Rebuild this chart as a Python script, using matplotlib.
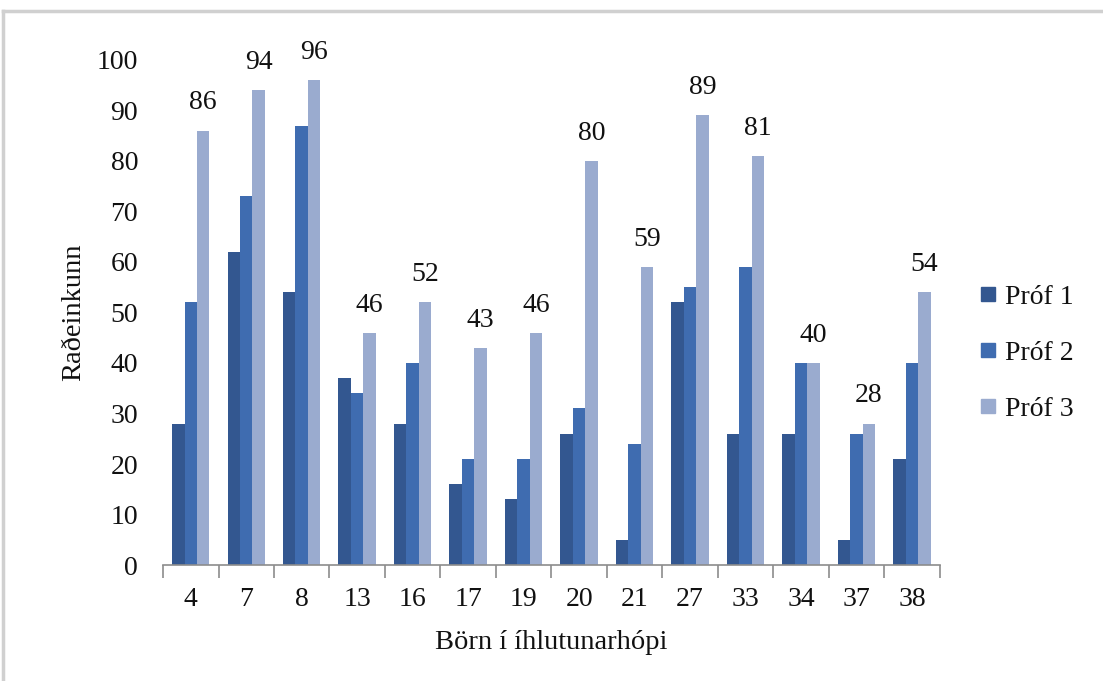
import matplotlib
matplotlib.use("Agg")
import matplotlib.pyplot as plt
from matplotlib.lines import Line2D
import numpy as np

plt.rcParams['font.family'] = ['Liberation Serif', 'DejaVu Serif']

children = ["4", "7", "8", "13", "16", "17", "19", "20", "21", "27", "33", "34", "37", "38"]
prof1 = [28, 62, 54, 37, 28, 16, 13, 26, 5, 52, 26, 26, 5, 21]
prof2 = [52, 73, 87, 34, 40, 21, 21, 31, 24, 55, 59, 40, 26, 40]
prof3 = [86, 94, 96, 46, 52, 43, 46, 80, 59, 89, 81, 40, 28, 54]
series_names = ["Próf 1", "Próf 2", "Próf 3"]
colors = ["#335790", "#3f6cb0", "#9aabcf"]

fig = plt.figure(figsize=(11.03, 6.81), dpi=100)
ax = fig.add_axes([0.1478, 0.1703, 0.852 - 0.1478, 0.912 - 0.1703])

x = np.arange(len(children))
w = 0.225
for i, (vals, name, c) in enumerate(zip([prof1, prof2, prof3], series_names, colors)):
    ax.bar(x + (i - 1) * w, vals, width=w, color=c, label=name, zorder=2)

for xi, v in zip(x, prof3):
    ax.text(xi + w, v + 3.0, str(v), ha="center", va="bottom", fontsize=20, color="#111111")

ax.set_xlim(-0.5, len(children) - 0.5)
ax.set_ylim(0, 100)
ax.set_yticks(range(0, 101, 10))
ax.set_xticks(x)
ax.set_xticklabels(children)
ax.set_xticks(np.arange(-0.5, len(children), 1.0), minor=True)
ax.tick_params(axis="x", which="major", length=0, labelsize=20, pad=16)
ax.tick_params(axis="x", which="minor", length=9, width=1.2, color="#8c8c8c")
ax.tick_params(axis="y", length=0, labelsize=20, pad=18)
for lbl in ax.get_xticklabels() + ax.get_yticklabels():
    lbl.set_color("#111111")

for s in ["top", "right", "left"]:
    ax.spines[s].set_visible(False)
ax.spines["bottom"].set_color("#8c8c8c")
ax.spines["bottom"].set_linewidth(1.2)

ax.set_ylabel("Raðeinkunn", fontsize=20.5, labelpad=7.5, color="#111111")
ax.set_xlabel("Börn í íhlutunarhópi", fontsize=20.5, labelpad=13, color="#111111")

handles = [Line2D([0], [0], marker="s", linestyle="none", markersize=9.5,
                  markerfacecolor=c, markeredgecolor=c) for c in colors]
fig.legend(handles, series_names, loc="center left", bbox_to_anchor=(0.862, 0.481),
           frameon=False, fontsize=20, handletextpad=0.15, labelspacing=1.1,
           handlelength=0.9, labelcolor="#111111")

# light grey frame along the top and left edges
fig.add_artist(Line2D([3 / 1103, 1.0], [1 - 11 / 681, 1 - 11 / 681],
                      transform=fig.transFigure, color="#d0d0d0", linewidth=2.5))
fig.add_artist(Line2D([3 / 1103, 3 / 1103], [0, 1 - 11 / 681],
                      transform=fig.transFigure, color="#d0d0d0", linewidth=2.5))

fig.savefig("out.png", dpi=100, facecolor="white")
